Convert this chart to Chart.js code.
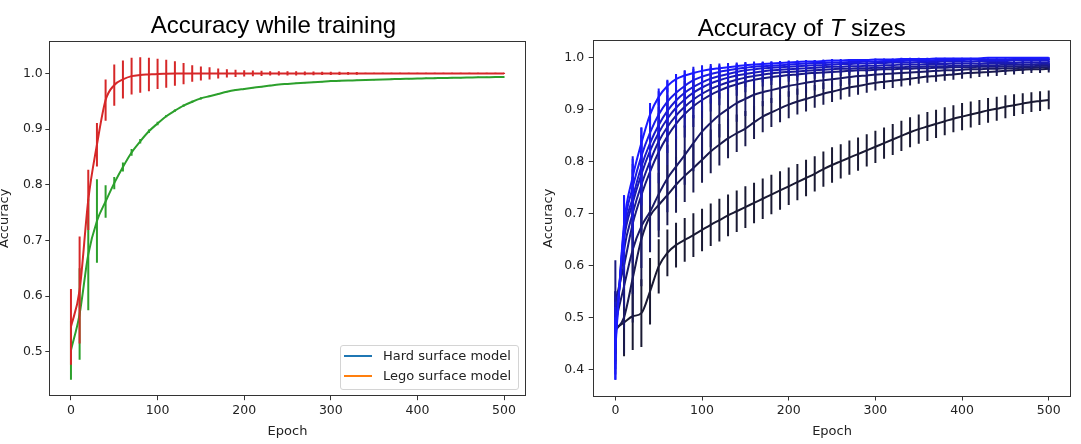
<!DOCTYPE html>
<html>
<head>
<meta charset="utf-8">
<script src="https://cdn.jsdelivr.net/npm/chart.js@4.4.1/dist/chart.umd.min.js"></script>
<style>
html,body{margin:0;padding:0;background:#fff;}
#page{position:relative;width:1081px;height:444px;overflow:hidden;background:#fff;}
.box{position:absolute;top:0;}
.title{position:absolute;width:400px;text-align:center;font-family:'Liberation Sans',Arial,sans-serif;font-size:24px;line-height:24px;color:#000;white-space:nowrap;}
#legend{position:absolute;left:339.5px;top:345px;width:179px;height:45px;box-sizing:border-box;border:1px solid #d4d4d4;border-radius:3px;background:rgba(255,255,255,0.85);z-index:5;}
.legrow{position:absolute;left:0;height:16px;width:177px;}
.legline{position:absolute;left:3.9px;top:7px;width:28px;height:2px;}
.legtext{position:absolute;left:42.5px;top:0;font-family:'DejaVu Sans';font-size:13px;line-height:16px;color:#222;white-space:nowrap;}
</style>
</head>
<body>
<div id="page">
  <div class="box" style="left:0;width:540px;height:444px"><canvas id="c1" width="540" height="444"></canvas></div>
  <div class="box" style="left:540px;width:541px;height:444px"><canvas id="c2" width="541" height="444"></canvas></div>
  <div class="title" id="t1" style="left:73.4px;top:13.2px"></div>
  <div class="title" id="t2" style="left:601.7px;top:16.4px"></div>
  <div id="legend"></div>
</div>
<script>
// ---------- data ----------
const epochs = [0,10,20,30,40,50,60,70,80,90,100,110,120,130,140,150,160,170,180,190,200,210,220,230,240,250,260,270,280,290,300,310,320,330,340,350,360,370,380,390,400,410,420,430,440,450,460,470,480,490,500];

const xTicks = [0,100,200,300,400,500];
const yTicksLeft = [0.5,0.6,0.7,0.8,0.9,1.0];
const yTicksRight = [0.4,0.5,0.6,0.7,0.8,0.9,1.0];

const titleLeft = 'Accuracy while training';
const titleRightParts = ['Accuracy of ', 'T', ' sizes'];
const legendLabels = ['Hard surface model', 'Lego surface model'];

// left chart
const hardAcc = [0.503,0.568,0.675,0.735,0.770,0.803,0.832,0.858,0.878,0.896,
 0.910,0.923,0.933,0.942,0.949,0.955,0.959,0.963,0.967,0.970,
 0.972,0.974,0.976,0.978,0.980,0.981,0.982,0.983,0.984,0.985,
 0.986,0.9865,0.987,0.9875,0.988,0.9885,0.989,0.9895,0.990,0.9903,
 0.9906,0.991,0.9913,0.9916,0.992,0.9922,0.9925,0.9928,0.993,0.9932,
 0.9935];
const hardErr = [0.053,0.082,0.100,0.075,0.029,0.011,0.008,0.006,0.004,0.003,
 0.003,0.002,0.002,0.002,0.002,0.002,0.001,0.001,0.001,0.001,
 0.001,0.001,0.001,0.001,0.001,0.001,0.001,0.001,0.001,0.001,
 0.001,0.001,0.001,0.001,0.001,0.001,0.001,0.001,0.001,0.001,
 0.001,0.001,0.001,0.001,0.001,0.001,0.001,0.001,0.001,0.001,
 0.001];
const legoAcc = [0.545,0.611,0.773,0.872,0.952,0.979,0.989,0.995,0.997,0.998,
 0.999,0.9993,0.9995,0.9996,0.9997,0.9997,0.9998,0.9998,0.9998,0.9998,
 0.9999,0.9999,0.9999,0.9999,0.9999,0.9999,0.9999,0.9999,0.9999,0.9999,
 0.9999,0.9999,0.9999,0.9999,0.9999,0.9999,0.9999,0.9999,0.9999,0.9999,
 0.9999,0.9999,0.9999,0.9999,0.9999,0.9999,0.9999,0.9999,0.9999,0.9999,
 0.9999];
const legoErr = [0.068,0.096,0.054,0.039,0.037,0.037,0.034,0.033,0.032,0.030,
 0.027,0.025,0.022,0.019,0.015,0.0125,0.011,0.009,0.0075,0.0065,
 0.0055,0.005,0.0045,0.004,0.004,0.0038,0.0036,0.0034,0.0032,0.003,
 0.003,0.0028,0.0026,0.0024,0.001,0.001,0.001,0.001,0.001,0.001,
 0.001,0.001,0.001,0.001,0.001,0.001,0.001,0.001,0.001,0.001,
 0.001];

// right chart: T sizes, darkest (0) to brightest (8)
const tAcc0 = [0.479,0.490,0.502,0.508,0.550,0.598,0.624,0.639,0.649,0.658,
 0.668,0.678,0.687,0.696,0.704,0.712,0.720,0.728,0.736,0.744,
 0.752,0.760,0.768,0.776,0.785,0.793,0.800,0.807,0.814,0.821,
 0.828,0.835,0.842,0.849,0.856,0.862,0.867,0.872,0.877,0.882,
 0.886,0.890,0.894,0.898,0.901,0.905,0.908,0.911,0.914,0.916,
 0.918];
const tErr0 = [0.050,0.065,0.065,0.065,0.064,0.052,0.045,0.043,0.042,0.042,
 0.041,0.041,0.041,0.040,0.040,0.040,0.039,0.039,0.038,0.037,
 0.036,0.035,0.035,0.034,0.034,0.034,0.033,0.033,0.032,0.031,
 0.031,0.030,0.030,0.029,0.029,0.028,0.028,0.027,0.027,0.026,
 0.026,0.025,0.024,0.024,0.023,0.022,0.021,0.020,0.019,0.019,
 0.018];
const tAcc1 = [0.475,0.500,0.575,0.650,0.695,0.716,0.735,0.755,0.772,0.787,
 0.803,0.819,0.832,0.844,0.854,0.863,0.875,0.886,0.894,0.902,
 0.909,0.915,0.920,0.925,0.930,0.934,0.938,0.942,0.945,0.948,
 0.951,0.953,0.955,0.957,0.959,0.961,0.963,0.964,0.966,0.967,
 0.969,0.970,0.971,0.972,0.973,0.974,0.975,0.976,0.977,0.977,
 0.978];
const tErr1 = [0.060,0.070,0.085,0.090,0.070,0.062,0.058,0.054,0.050,0.047,
 0.044,0.042,0.040,0.038,0.036,0.034,0.032,0.030,0.028,0.027,
 0.026,0.025,0.024,0.022,0.021,0.020,0.019,0.018,0.017,0.016,
 0.015,0.014,0.014,0.013,0.013,0.012,0.012,0.011,0.011,0.010,
 0.010,0.010,0.009,0.009,0.009,0.008,0.008,0.008,0.007,0.007,
 0.007];
const tAcc2 = [0.490,0.560,0.630,0.675,0.703,0.737,0.767,0.790,0.812,0.835,
 0.857,0.874,0.889,0.901,0.912,0.920,0.928,0.933,0.937,0.941,
 0.945,0.948,0.951,0.954,0.956,0.958,0.960,0.962,0.964,0.965,
 0.967,0.968,0.969,0.970,0.971,0.972,0.973,0.974,0.975,0.975,
 0.976,0.977,0.977,0.978,0.978,0.979,0.979,0.980,0.980,0.981,
 0.981];
const tErr2 = [0.060,0.080,0.085,0.080,0.075,0.070,0.065,0.060,0.057,0.054,
 0.050,0.047,0.043,0.040,0.036,0.033,0.030,0.027,0.025,0.023,
 0.021,0.020,0.019,0.018,0.017,0.016,0.015,0.014,0.013,0.013,
 0.012,0.012,0.011,0.011,0.010,0.010,0.010,0.009,0.009,0.009,
 0.008,0.008,0.008,0.007,0.007,0.007,0.007,0.006,0.006,0.006,
 0.006];
const tAcc3 = [0.530,0.600,0.680,0.735,0.780,0.818,0.848,0.872,0.891,0.906,
 0.918,0.928,0.936,0.943,0.948,0.953,0.957,0.960,0.962,0.964,
 0.966,0.967,0.969,0.970,0.971,0.972,0.973,0.974,0.975,0.975,
 0.976,0.977,0.977,0.978,0.978,0.979,0.979,0.980,0.980,0.981,
 0.981,0.981,0.982,0.982,0.982,0.983,0.983,0.983,0.983,0.984,
 0.984];
const tErr3 = [0.080,0.080,0.075,0.070,0.065,0.060,0.055,0.050,0.045,0.040,
 0.036,0.032,0.028,0.025,0.022,0.020,0.018,0.016,0.015,0.014,
 0.013,0.012,0.011,0.011,0.010,0.010,0.009,0.009,0.008,0.008,
 0.008,0.007,0.007,0.007,0.006,0.006,0.006,0.006,0.005,0.005,
 0.005,0.005,0.005,0.004,0.004,0.004,0.004,0.004,0.004,0.004,
 0.004];
const tAcc4 = [0.480,0.630,0.700,0.755,0.800,0.838,0.866,0.888,0.905,0.919,
 0.930,0.939,0.946,0.952,0.957,0.961,0.964,0.967,0.969,0.971,
 0.972,0.973,0.974,0.975,0.976,0.977,0.978,0.978,0.979,0.979,
 0.980,0.980,0.981,0.981,0.982,0.982,0.983,0.983,0.983,0.984,
 0.984,0.984,0.985,0.985,0.985,0.986,0.986,0.986,0.986,0.987,
 0.987];
const tErr4 = [0.070,0.075,0.070,0.065,0.060,0.055,0.050,0.045,0.040,0.036,
 0.032,0.028,0.025,0.022,0.020,0.018,0.016,0.015,0.014,0.013,
 0.012,0.011,0.010,0.010,0.009,0.009,0.008,0.008,0.008,0.007,
 0.007,0.007,0.006,0.006,0.006,0.006,0.005,0.005,0.005,0.005,
 0.005,0.004,0.004,0.004,0.004,0.004,0.004,0.003,0.003,0.003,
 0.003];
const tAcc5 = [0.470,0.650,0.720,0.775,0.820,0.855,0.882,0.903,0.919,0.932,
 0.942,0.950,0.956,0.961,0.965,0.968,0.971,0.973,0.975,0.976,
 0.977,0.978,0.979,0.980,0.981,0.982,0.982,0.983,0.983,0.984,
 0.984,0.985,0.985,0.986,0.986,0.986,0.987,0.987,0.987,0.988,
 0.988,0.988,0.988,0.989,0.989,0.989,0.989,0.990,0.990,0.990,
 0.990];
const tErr5 = [0.070,0.070,0.065,0.060,0.055,0.050,0.045,0.040,0.036,0.032,
 0.028,0.025,0.022,0.020,0.018,0.016,0.014,0.013,0.012,0.011,
 0.010,0.010,0.009,0.009,0.008,0.008,0.007,0.007,0.007,0.006,
 0.006,0.006,0.006,0.005,0.005,0.005,0.005,0.005,0.004,0.004,
 0.004,0.004,0.004,0.004,0.003,0.003,0.003,0.003,0.003,0.003,
 0.003];
const tAcc6 = [0.460,0.660,0.730,0.790,0.835,0.870,0.897,0.917,0.932,0.943,
 0.952,0.959,0.964,0.968,0.972,0.975,0.977,0.979,0.980,0.981,
 0.982,0.983,0.984,0.985,0.985,0.986,0.987,0.987,0.988,0.988,
 0.989,0.989,0.990,0.990,0.990,0.991,0.991,0.991,0.992,0.992,
 0.992,0.992,0.993,0.993,0.993,0.993,0.994,0.994,0.994,0.994,
 0.994];
const tErr6 = [0.070,0.070,0.065,0.060,0.055,0.050,0.045,0.040,0.035,0.030,
 0.026,0.022,0.019,0.017,0.015,0.013,0.012,0.011,0.010,0.009,
 0.009,0.008,0.008,0.007,0.007,0.007,0.006,0.006,0.006,0.005,
 0.005,0.005,0.005,0.004,0.004,0.004,0.004,0.004,0.004,0.003,
 0.003,0.003,0.003,0.003,0.003,0.003,0.003,0.003,0.003,0.003,
 0.003];
const tAcc7 = [0.450,0.670,0.750,0.810,0.855,0.890,0.915,0.932,0.945,0.956,
 0.963,0.968,0.972,0.975,0.978,0.980,0.982,0.983,0.984,0.985,
 0.986,0.987,0.988,0.989,0.989,0.990,0.990,0.991,0.991,0.992,
 0.992,0.993,0.993,0.993,0.994,0.994,0.994,0.995,0.995,0.995,
 0.995,0.996,0.996,0.996,0.996,0.996,0.997,0.997,0.997,0.997,
 0.997];
const tErr7 = [0.070,0.065,0.060,0.055,0.050,0.045,0.040,0.035,0.030,0.026,
 0.022,0.019,0.016,0.014,0.012,0.011,0.010,0.009,0.008,0.008,
 0.007,0.007,0.006,0.006,0.006,0.005,0.005,0.005,0.004,0.004,
 0.004,0.004,0.004,0.003,0.003,0.003,0.003,0.003,0.003,0.003,
 0.002,0.002,0.002,0.002,0.002,0.002,0.002,0.002,0.002,0.002,
 0.002];
const tAcc8 = [0.440,0.680,0.770,0.835,0.890,0.924,0.945,0.958,0.965,0.970,
 0.974,0.977,0.979,0.981,0.983,0.985,0.986,0.987,0.988,0.989,
 0.990,0.991,0.992,0.992,0.993,0.994,0.994,0.995,0.995,0.995,
 0.996,0.996,0.996,0.997,0.997,0.997,0.997,0.998,0.998,0.998,
 0.998,0.998,0.998,0.999,0.999,0.999,0.999,0.999,0.999,0.999,
 0.999];
const tErr8 = [0.060,0.055,0.035,0.030,0.022,0.016,0.012,0.010,0.009,0.008,
 0.007,0.007,0.006,0.006,0.005,0.005,0.005,0.004,0.004,0.004,
 0.004,0.003,0.003,0.003,0.003,0.003,0.003,0.002,0.002,0.002,
 0.002,0.002,0.002,0.002,0.002,0.002,0.002,0.001,0.001,0.001,
 0.001,0.001,0.001,0.001,0.001,0.001,0.001,0.001,0.001,0.001,
 0.001];

const tAccs = [tAcc0,tAcc1,tAcc2,tAcc3,tAcc4,tAcc5,tAcc6,tAcc7,tAcc8];
const tErrs = [tErr0,tErr1,tErr2,tErr3,tErr4,tErr5,tErr6,tErr7,tErr8];

// ---------- styles ----------
const leftColors = ['#2ca02c', '#d62728'];
const legendColors = ['#1f77b4', '#ff7f0e'];
const rightColors = tAccs.map((_, i) => 'rgb(26,26,' + Math.round(51 + i * 25.5) + ')');
const TICK_COLOR = '#222';
const AXIS_COLOR = '#333';

// ---------- helpers ----------
function linePts(vals) { return epochs.map((e, i) => ({x: e, y: vals[i]})); }
function errPts(vals, errs) {
  const out = [];
  epochs.forEach((e, i) => {
    out.push({x: e, y: vals[i] - errs[i]}, {x: e, y: vals[i] + errs[i]}, {x: e, y: null});
  });
  return out;
}
function buildDatasets(series) {
  // series: array of {vals, errs, color} in drawing order (first = bottom)
  const ds = [];
  const n = series.length * 2;
  let k = 0;
  series.forEach(s => {
    ds.push({data: linePts(s.vals), borderColor: s.color, borderWidth: 2, pointRadius: 0,
      fill: false, cubicInterpolationMode: 'monotone', spanGaps: false, order: n - (k++)});
    ds.push({data: errPts(s.vals, s.errs), borderColor: s.color, borderWidth: 2, pointRadius: 0,
      fill: false, tension: 0, spanGaps: false, borderCapStyle: 'butt', order: n - (k++)});
  });
  return ds;
}
function makeScales(o) {
  const tickFont = {family: 'DejaVu Sans', size: 12.5};
  return {
    x: {
      type: 'linear', position: 'bottom', min: -25, max: 525,
      afterBuildTicks: s => { s.ticks = xTicks.map(v => ({value: v})); },
      afterFit: s => { s.height = o.xHeight; },
      ticks: {font: tickFont, color: TICK_COLOR, padding: 3, maxRotation: 0, autoSkip: false, callback: v => String(v)},
      grid: {drawOnChartArea: false, drawTicks: true, tickLength: 4.5, tickColor: AXIS_COLOR, tickWidth: 1},
      border: {display: true, color: AXIS_COLOR, width: 1},
      title: {display: true, text: 'Epoch', font: {family: 'DejaVu Sans', size: 13}, color: TICK_COLOR, padding: {top: 0, bottom: 5}}
    },
    y: {
      type: 'linear', position: 'left', min: o.yMin, max: o.yMax,
      afterBuildTicks: s => { s.ticks = o.yTicks.map(v => ({value: v})); },
      afterFit: s => { s.width = o.yWidth; },
      ticks: {font: tickFont, color: TICK_COLOR, padding: o.yPad, autoSkip: false, callback: v => Number(v).toFixed(1)},
      grid: {drawOnChartArea: false, drawTicks: true, tickLength: o.yTick, tickColor: AXIS_COLOR, tickWidth: 1},
      border: {display: true, color: AXIS_COLOR, width: 1},
      title: {display: true, text: 'Accuracy', font: {family: 'DejaVu Sans', size: 13}, color: TICK_COLOR, padding: {top: o.yTitlePad, bottom: 0}}
    },
    xTop: {
      type: 'linear', position: 'top', min: -25, max: 525,
      afterBuildTicks: s => { s.ticks = []; },
      afterFit: s => { s.height = 0; },
      ticks: {display: false},
      grid: {drawOnChartArea: false, drawTicks: false},
      border: {display: true, color: AXIS_COLOR, width: 1}
    },
    yRight: {
      type: 'linear', position: 'right', min: o.yMin, max: o.yMax,
      afterBuildTicks: s => { s.ticks = []; },
      afterFit: s => { s.width = 0; },
      ticks: {display: false},
      grid: {drawOnChartArea: false, drawTicks: false},
      border: {display: true, color: AXIS_COLOR, width: 1}
    }
  };
}
function makeChart(id, datasets, scaleOpts, padding) {
  return new Chart(document.getElementById(id), {
    type: 'line',
    data: {datasets: datasets},
    options: {
      responsive: false, animation: false, events: [], devicePixelRatio: 1,
      layout: {padding: padding},
      plugins: {legend: {display: false}, tooltip: {enabled: false}, title: {display: false}},
      scales: makeScales(scaleOpts)
    }
  });
}

// ---------- charts ----------
makeChart('c1',
  buildDatasets([
    {vals: hardAcc, errs: hardErr, color: leftColors[0]},
    {vals: legoAcc, errs: legoErr, color: leftColors[1]}
  ]),
  {yMin: 0.4215, yMax: 1.058, yTicks: yTicksLeft, yWidth: 49.3, xHeight: 48.3, yPad: 2.5, yTick: 4, yTitlePad: -2.8},
  {left: 0, right: 14.3, top: 41, bottom: 0});

makeChart('c2',
  buildDatasets(tAccs.map((v, i) => ({vals: v, errs: tErrs[i], color: rightColors[i]}))),
  {yMin: 0.3487, yMax: 1.032, yTicks: yTicksRight, yWidth: 53.7, xHeight: 48, yPad: 4.5, yTick: 5, yTitlePad: 1.2},
  {left: 0, right: 10.6, top: 40.7, bottom: 0});

// ---------- titles & legend (HTML text) ----------
document.getElementById('t1').textContent = titleLeft;
const t2 = document.getElementById('t2');
titleRightParts.forEach((p, i) => {
  const el = document.createElement(i === 1 ? 'i' : 'span');
  el.textContent = p;
  t2.appendChild(el);
});
const lg = document.getElementById('legend');
legendLabels.forEach((lab, i) => {
  const row = document.createElement('div');
  row.className = 'legrow';
  row.style.top = (1.7 + i * 20) + 'px';
  const sw = document.createElement('span');
  sw.className = 'legline';
  sw.style.background = legendColors[i];
  const tx = document.createElement('span');
  tx.className = 'legtext';
  tx.textContent = lab;
  row.appendChild(sw);
  row.appendChild(tx);
  lg.appendChild(row);
});
</script>
</body>
</html>
